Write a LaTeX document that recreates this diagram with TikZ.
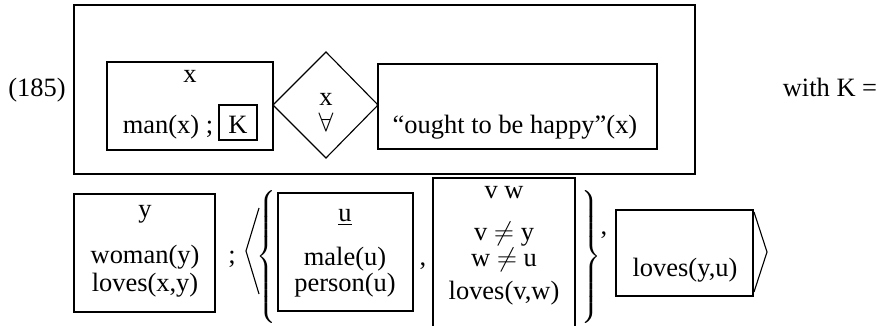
\documentclass[tikz,border=0pt]{standalone}
\usepackage{fontspec}
\setmainfont{Liberation Serif}
\usetikzlibrary{calc}

\tikzset{
  drs/.style={draw, line width=1.3pt},
  kbox/.style={draw, line width=0.9pt},
  cond/.style={anchor=base, inner sep=0pt},
  thinline/.style={line width=0.5pt},
}

\begin{document}
\begin{tikzpicture}[x=0.45pt, y=-0.45pt, font=\fontsize{11.9}{14}\selectfont]
    % Límites del dibujo
    \useasboundingbox (0,0) rectangle (878,326);
    \clip (0,0) rectangle (878,326);

    % Caja exterior
    \coordinate (E1) at (74,5);
    \coordinate (E2) at (695,174);
    \draw[line width=0.9pt] (E1) rectangle (E2);

    % Número del ejemplo y "with K ="
    \node[cond] (num) at (37,97) {(185)};
    \node[cond] (conK) at (830,97) {with K =};

    % Caja de la restricción
    \coordinate (A1) at (107,62);
    \coordinate (A2) at (273,150);
    \draw[drs] (A1) rectangle (A2);
    \node[cond] (varx) at (190,83) {x};
    \node[cond] (man) at (168,133) {man(x) ;};
    \draw[kbox] (219,105) rectangle (257,140);
    \node[cond] (K) at (238,133) {K};

    % Diamante del cuantificador
    \coordinate (DL) at (273,105);
    \coordinate (DT) at (326,52);
    \coordinate (DR) at (378,105);
    \coordinate (DB) at (326,158);
    \draw[thinline] (DL) -- (DT) -- (DR) -- (DB) -- cycle;
    \node[cond] (qx) at (326,106) {x};
    \node[cond] (forall) at (326,132) {$\forall$};

    % Caja del alcance
    \coordinate (B1) at (378,64);
    \coordinate (B2) at (657,149);
    \draw[drs] (B1) rectangle (B2);
    \node[cond] (happy) at (515,133) {“ought to be happy”(x)};

    % Caja de y
    \coordinate (Y1) at (74,194);
    \coordinate (Y2) at (215,312);
    \draw[drs] (Y1) rectangle (Y2);
    \node[cond] (vary) at (145,217) {y};
    \node[cond] (woman) at (145,263) {woman(y)};
    \node[cond] (lovesxy) at (145,291) {loves(x,y)};
    \node[cond] (semi) at (232,263) {;};

    % Corchete angular izquierdo y llave
    \draw[thinline] (259,208) -- (246,251) -- (259,294);
    \node[inner sep=0pt] (llaveI) at (268,259) {$\left\{\vrule height 29pt depth 29pt width 0pt\right.$};

    % Caja de u
    \coordinate (U1) at (278,193);
    \coordinate (U2) at (413,311);
    \draw[drs] (U1) rectangle (U2);
    \node[cond] (varu) at (345,221) {\underline{u}};
    \node[cond] (male) at (345,265) {male(u)};
    \node[cond] (person) at (345,291) {person(u)};
    \node[cond] (coma1) at (423,265) {,};

    % Caja de v y w
    \coordinate (V1) at (433,178);
    \coordinate (V2) at (575,340);
    \draw[drs] (V1) rectangle (V2);
    \node[cond] (varvw) at (504,198) {v w};
    \node[cond] (vy) at (504,240) {v $\neq$ y};
    \node[cond] (wu) at (504,266) {w $\neq$ u};
    \node[cond] (lovesvw) at (504,299) {loves(v,w)};

    % Llave derecha
    \node[inner sep=0pt] (llaveD) at (590,259) {$\left.\vrule height 29pt depth 29pt width 0pt\right\}$};
    \node[cond] (coma2) at (604,234) {,};

    % Caja de loves(y,u) y corchete angular derecho
    \coordinate (L1) at (616,210);
    \coordinate (L2) at (753,296);
    \draw[drs] (L1) rectangle (L2);
    \node[cond] (lovesyu) at (685,276) {loves(y,u)};
    \draw[thinline] (754,212) -- (767,252) -- (754,292);

\end{tikzpicture}
\end{document}
